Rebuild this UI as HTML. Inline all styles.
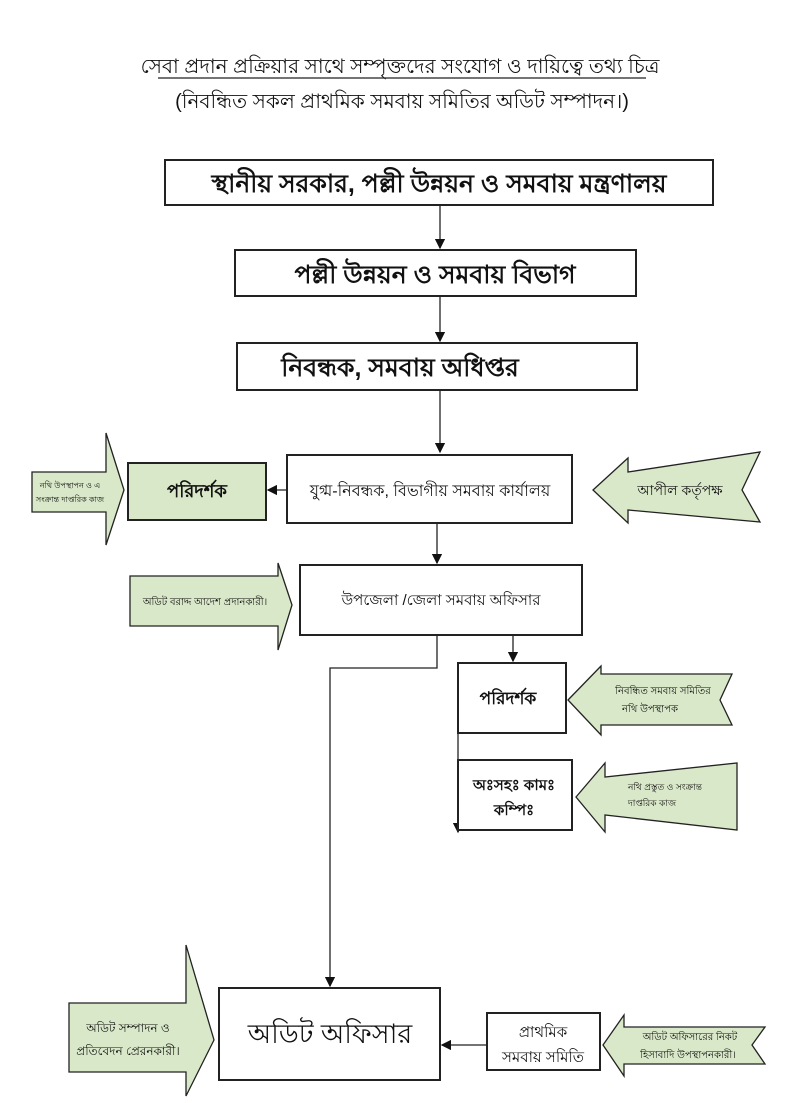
<!DOCTYPE html>
<html><head><meta charset="utf-8"><style>
html,body{margin:0;padding:0;background:#fff;}
svg{display:block;}
text{font-family:"Liberation Sans","Noto Sans CJK SC",sans-serif;fill:#111;}
</style></head><body>
<svg width="804" height="1103" viewBox="0 0 804 1103" xmlns="http://www.w3.org/2000/svg">
<defs><marker id="a" markerWidth="8" markerHeight="8" refX="7" refY="4" orient="auto"><path d="M0,0 L8,4 L0,8 z" fill="#111"/></marker></defs>
<g stroke="#222" stroke-width="2" fill="#fff">
<text x="400" y="73" text-anchor="middle" font-size="20" stroke="none">সেবা প্রদান প্রক্রিয়ার সাথে সম্পৃক্তদের সংযোগ ও দায়িত্বে তথ্য চিত্র</text>
<line x1="158" y1="78" x2="646" y2="78" stroke-width="1.3"/>
<text x="402" y="108" text-anchor="middle" font-size="20" stroke="none">(নিবন্ধিত সকল প্রাথমিক সমবায় সমিতির অডিট সম্পাদন।)</text>

<rect x="165" y="160" width="548" height="45"/>
<text x="439" y="192" text-anchor="middle" font-size="25" font-weight="bold" stroke="none">স্থানীয় সরকার, পল্লী উন্নয়ন ও সমবায় মন্ত্রণালয়</text>
<line x1="440" y1="205" x2="440" y2="248" stroke-width="1.3" marker-end="url(#a)"/>
<rect x="235" y="250" width="401" height="46"/>
<text x="435" y="283" text-anchor="middle" font-size="25" font-weight="bold" stroke="none">পল্লী উন্নয়ন ও  সমবায় বিভাগ</text>
<line x1="440" y1="296" x2="440" y2="341" stroke-width="1.3" marker-end="url(#a)"/>
<rect x="237" y="343" width="400" height="47"/>
<text x="400" y="376" text-anchor="middle" font-size="25" font-weight="bold" stroke="none">নিবন্ধক, সমবায় অধিপ্তর</text>
<line x1="440" y1="390" x2="440" y2="452" stroke-width="1.3" marker-end="url(#a)"/>

<rect x="287" y="455" width="285" height="68"/>
<text x="430" y="496" text-anchor="middle" font-size="16" stroke="none">যুগ্ম-নিবন্ধক, বিভাগীয় সমবায় কার্যালয়</text>
<line x1="287" y1="490" x2="268" y2="490" stroke-width="1.3" marker-end="url(#a)"/>
<rect x="128" y="463" width="138" height="57" fill="#d9e8c8"/>
<text x="197" y="497" text-anchor="middle" font-size="18" font-weight="bold" stroke="none">পরিদর্শক</text>
<path d="M32,472 L106,472 L106,433 L124,490 L106,545 L106,512 L32,512 Z" fill="#d9e8c8" stroke-width="1.3"/>
<text x="70" y="488" text-anchor="middle" font-size="8" stroke="none">নথি উপস্থাপন ও এ</text>
<text x="70" y="502" text-anchor="middle" font-size="8" stroke="none">সংক্রান্ত দাপ্তরিক কাজ</text>
<path d="M593,490 L628,458 L628,472 L760,452 L742,490 L760,522 L628,510 L628,523 Z" fill="#d9e8c8" stroke-width="1.3"/>
<text x="680" y="495" text-anchor="middle" font-size="14" stroke="none">আপীল কর্তৃপক্ষ</text>

<line x1="437" y1="523" x2="437" y2="563" stroke-width="1.3" marker-end="url(#a)"/>
<rect x="300" y="565" width="282" height="70"/>
<text x="441" y="605" text-anchor="middle" font-size="15" stroke="none">উপজেলা /জেলা সমবায় অফিসার</text>
<path d="M130,576 L278,576 L278,563 L292,605 L278,650 L278,626 L130,626 Z" fill="#d9e8c8" stroke-width="1.3"/>
<text x="205" y="605" text-anchor="middle" font-size="10" stroke="none">অডিট বরাদ্দ আদেশ প্রদানকারী।</text>

<polyline points="437,635 437,668 330,668 330,986" fill="none" stroke-width="1.3" marker-end="url(#a)"/>
<line x1="513" y1="635" x2="513" y2="661" stroke-width="1.3" marker-end="url(#a)"/>
<rect x="458" y="663" width="108" height="70"/>
<text x="508" y="704" text-anchor="middle" font-size="17" font-weight="bold" stroke="none">পরিদর্শক</text>
<path d="M568,700 L601,666 L601,674 L732,674 L720,700 L732,725 L601,725 L601,735 Z" fill="#d9e8c8" stroke-width="1.3"/>
<text x="663" y="694" text-anchor="middle" font-size="10" stroke="none">নিবন্ধিত সমবায় সমিতির</text>
<text x="650" y="712" text-anchor="middle" font-size="10" stroke="none">নথি উপস্থাপক</text>
<line x1="458" y1="733" x2="458" y2="832" stroke-width="1.3" marker-end="url(#a)"/>
<rect x="458" y="760" width="114" height="70"/>
<text x="514" y="790" text-anchor="middle" font-size="15" font-weight="bold" stroke="none">অঃসহঃ কামঃ</text>
<text x="514" y="815" text-anchor="middle" font-size="15" font-weight="bold" stroke="none">কম্পিঃ</text>
<path d="M576,797 L605,763 L605,777 L737,763 L737,830 L605,815 L605,832 Z" fill="#d9e8c8" stroke-width="1.3"/>
<text x="665" y="790" text-anchor="middle" font-size="9" stroke="none">নথি প্রস্তুত ও সংক্রান্ত</text>
<text x="652" y="806" text-anchor="middle" font-size="9" stroke="none">দাপ্তরিক কাজ</text>

<rect x="219" y="988" width="221" height="92"/>
<text x="330" y="1043" text-anchor="middle" font-size="27" stroke="none">অডিট অফিসার</text>
<line x1="487" y1="1045" x2="442" y2="1045" stroke-width="1.3" marker-end="url(#a)"/>
<rect x="487" y="1013" width="113" height="57"/>
<text x="543" y="1037" text-anchor="middle" font-size="15" stroke="none">প্রাথমিক</text>
<text x="543" y="1062" text-anchor="middle" font-size="15" stroke="none">সমবায় সমিতি</text>
<path d="M69,1003 L186,1003 L186,945 L214,1040 L186,1096 L186,1072 L69,1072 Z" fill="#d9e8c8" stroke-width="1.3"/>
<text x="128" y="1032" text-anchor="middle" font-size="12" stroke="none">অডিট সম্পাদন ও</text>
<text x="128" y="1055" text-anchor="middle" font-size="12" stroke="none">প্রতিবেদন প্রেরনকারী।</text>
<path d="M603,1045 L624,1015 L624,1027 L765,1027 L752,1045 L765,1064 L624,1064 L624,1076 Z" fill="#d9e8c8" stroke-width="1.3"/>
<text x="690" y="1040" text-anchor="middle" font-size="10" stroke="none">অডিট অফিসারের নিকট</text>
<text x="688" y="1058" text-anchor="middle" font-size="10" stroke="none">হিসাবাদি উপস্থাপনকারী।</text>
</g>
</svg>
</body></html>
